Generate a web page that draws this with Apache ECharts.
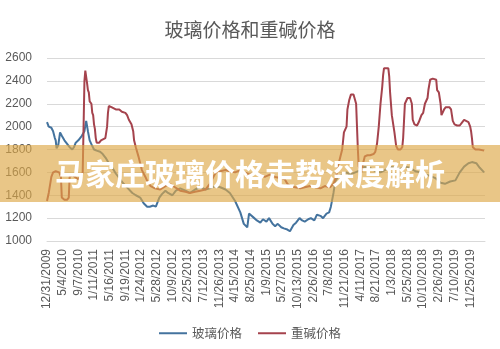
<!DOCTYPE html>
<html>
<head>
<meta charset="utf-8">
<script src="https://cdn.jsdelivr.net/npm/echarts@6/dist/echarts.min.js"></script>
<style>
  html, body { margin: 0; padding: 0; background: #fff; }
  #chart { width: 500px; height: 349px; }
</style>
</head>
<body>
<div id="chart"></div>
<script>
// Tick labels: one every 18 weeks, starting at week 0
const tickLabels = [
  '12/31/2009', '5/4/2010', '9/7/2010', '1/11/2011', '5/16/2011', '9/19/2011',
  '1/24/2012', '5/28/2012', '10/9/2012', '2/25/2013', '7/12/2013', '11/26/2013',
  '4/15/2014', '8/25/2014', '1/9/2015', '5/27/2015', '10/13/2015', '2/26/2016',
  '7/8/2016', '11/21/2016', '4/11/2017', '8/21/2017', '1/3/2018', '5/25/2018',
  '10/10/2018', '2/26/2019', '7/10/2019', '11/25/2019'
];
const weeksPerTick = 18;
const lastWeek = 503;

// 玻璃价格: [week, price]
const glassPrice = [
  [0,2040],[2,2000],[5,1990],[7,1960],[9,1900],[10,1880],[11,1810],[13,1840],[15,1950],
  [17,1920],[20,1880],[22,1860],[24,1840],[26,1820],[29,1800],[31,1820],[33,1860],[36,1880],
  [38,1890],[40,1920],[43,1960],[45,2050],[47,1960],[49,1880],[52,1830],[54,1800],[57,1790],
  [61,1780],[64,1760],[68,1720],[71,1680],[75,1640],[79,1590],[84,1540],[88,1500],[93,1460],
  [98,1420],[102,1400],[107,1380],[111,1330],[115,1300],[118,1300],[122,1310],[125,1300],
  [129,1380],[132,1410],[136,1440],[139,1420],[144,1400],[148,1440],[153,1460],[159,1440],
  [164,1420],[170,1450],[176,1470],[182,1450],[187,1460],[193,1480],[199,1470],[205,1450],
  [210,1420],[216,1350],[222,1250],[226,1150],[230,1120],[232,1240],[234,1255],[238,1200],
  [241,1180],[245,1160],[248,1190],[252,1170],[255,1200],[259,1150],[262,1130],[265,1150],
  [269,1120],[272,1110],[276,1100],[279,1085],[283,1140],[286,1160],[290,1200],[293,1180],
  [296,1170],[300,1190],[303,1200],[307,1180],[310,1230],[314,1220],[317,1200],[321,1240],
  [324,1250],[326,1300],[329,1420],[331,1520],[334,1560],[339,1580],[344,1600],[348,1580],
  [354,1600],[360,1620],[365,1650],[371,1640],[377,1610],[383,1600],[388,1620],[394,1650],
  [400,1640],[406,1630],[411,1650],[417,1640],[423,1610],[429,1600],[434,1580],[440,1570],
  [446,1550],[452,1510],[457,1500],[463,1520],[469,1530],[474,1600],[479,1650],[484,1680],
  [488,1690],[493,1680],[497,1640],[502,1600]
];

// 重碱价格: [week, price]
const sodaPrice = [
  [0,1350],[2,1420],[5,1560],[7,1600],[10,1610],[14,1600],[16,1560],[17,1380],[20,1360],
  [23,1360],[25,1380],[26,1560],[29,1580],[32,1560],[36,1540],[38,1560],[40,1580],[41,1600],
  [43,2400],[44,2490],[45,2480],[46,2380],[47,2320],[48,2300],[49,2220],[51,2200],[52,2120],
  [53,2100],[54,2020],[55,1980],[56,1900],[57,1860],[60,1860],[62,1880],[64,1890],[67,1900],
  [69,2000],[70,2120],[71,2180],[74,2170],[76,2160],[79,2150],[83,2150],[86,2130],[90,2120],
  [92,2100],[94,2060],[97,2020],[99,1960],[100,1880],[102,1820],[105,1740],[107,1680],
  [109,1620],[113,1560],[116,1510],[119,1480],[124,1460],[130,1450],[136,1480],[141,1500],
  [147,1470],[153,1440],[159,1430],[164,1420],[170,1430],[176,1440],[182,1450],[187,1500],
  [191,1560],[194,1600],[199,1610],[205,1620],[210,1610],[216,1600],[222,1620],[227,1600],
  [233,1580],[239,1600],[245,1580],[250,1560],[256,1580],[262,1560],[268,1550],[273,1540],
  [276,1500],[279,1480],[285,1470],[291,1460],[296,1470],[302,1480],[308,1470],[314,1460],
  [319,1480],[325,1470],[329,1500],[332,1560],[335,1680],[339,1800],[341,1950],[344,2000],
  [345,2150],[347,2230],[349,2280],[352,2280],[354,2270],[355,2200],[356,2000],[357,1800],
  [358,1650],[361,1600],[363,1680],[365,1740],[368,1750],[371,1750],[375,1760],[377,1780],
  [379,1850],[381,2000],[383,2200],[385,2350],[386,2450],[387,2510],[389,2520],[392,2510],
  [393,2440],[394,2300],[396,2100],[399,1950],[401,1830],[403,1800],[406,1800],[408,1820],
  [409,1900],[410,2050],[411,2200],[414,2250],[417,2250],[419,2200],[420,2060],[422,2020],
  [425,2010],[427,2040],[430,2100],[432,2120],[434,2200],[437,2250],[438,2320],[440,2410],
  [443,2420],[447,2410],[448,2320],[450,2300],[452,2200],[453,2100],[455,2090],[456,2150],
  [458,2170],[462,2170],[464,2150],[465,2100],[466,2050],[468,2020],[471,2010],[474,2010],
  [477,2040],[479,2060],[481,2070],[484,2040],[486,2000],[487,1960],[488,1900],[489,1820],
  [492,1800],[496,1800],[502,1790]
];

const seriesNames = ['玻璃价格', '重碱价格'];
const bannerText = '马家庄玻璃价格走势深度解析';

const textColor = '#595959';
const gridColor = '#d9d9d9';
const latin = '"Liberation Sans", Arial, sans-serif';
const cjk = '"Noto Sans CJK SC", sans-serif';

const chart = echarts.init(document.getElementById('chart'), null, { renderer: 'canvas' });
chart.setOption({
  backgroundColor: '#fff',
  animation: false,
  title: {
    text: '玻璃价格和重碱价格',
    left: 'center',
    top: 15,
    textStyle: { fontFamily: cjk, fontSize: 19, fontWeight: 'normal', color: textColor }
  },
  legend: {
    data: seriesNames,
    top: 322,
    left: 'center',
    icon: 'rect',
    itemWidth: 28,
    itemHeight: 2,
    itemGap: 16,
    textStyle: { fontFamily: cjk, fontSize: 12.5, color: textColor }
  },
  grid: { left: 47, right: 15, top: 58, bottom: 108 },
  xAxis: {
    type: 'value',
    min: 0,
    max: lastWeek,
    interval: weeksPerTick,
    axisLine: { show: true, lineStyle: { color: gridColor } },
    axisTick: { show: false },
    splitLine: { show: false },
    axisLabel: {
      rotate: 90,
      margin: 8,
      fontFamily: latin,
      fontSize: 12,
      color: textColor,
      showMaxLabel: false,
      formatter: function (v) {
        const i = v / weeksPerTick;
        return Number.isInteger(i) && tickLabels[i] ? tickLabels[i] : '';
      }
    }
  },
  yAxis: {
    type: 'value',
    min: 1000,
    max: 2600,
    interval: 200,
    axisLine: { show: false },
    axisTick: { show: false },
    splitLine: { lineStyle: { color: gridColor, width: 1 } },
    axisLabel: {
      margin: 15,
      fontFamily: latin,
      fontSize: 12,
      color: textColor,
      formatter: function (v) { return String(v); }
    }
  },
  series: [
    {
      name: seriesNames[0],
      type: 'line',
      data: glassPrice,
      showSymbol: false,
      itemStyle: { color: '#44739e' },
      lineStyle: { color: '#44739e', width: 2 }
    },
    {
      name: seriesNames[1],
      type: 'line',
      data: sodaPrice,
      showSymbol: false,
      itemStyle: { color: '#a5434d' },
      lineStyle: { color: '#a5434d', width: 2 }
    }
  ],
  graphic: [
    {
      type: 'rect',
      z: 100,
      shape: { x: 0, y: 145, width: 500, height: 57 },
      style: { fill: 'rgba(221,167,70,0.65)' }
    },
    {
      type: 'text',
      z: 101,
      x: 250,
      y: 174,
      style: {
        text: bannerText,
        fill: '#ffffff',
        font: 'bold 30px "Noto Sans CJK SC", sans-serif',
        textAlign: 'center',
        textVerticalAlign: 'middle'
      }
    }
  ]
});
</script>
</body>
</html>
